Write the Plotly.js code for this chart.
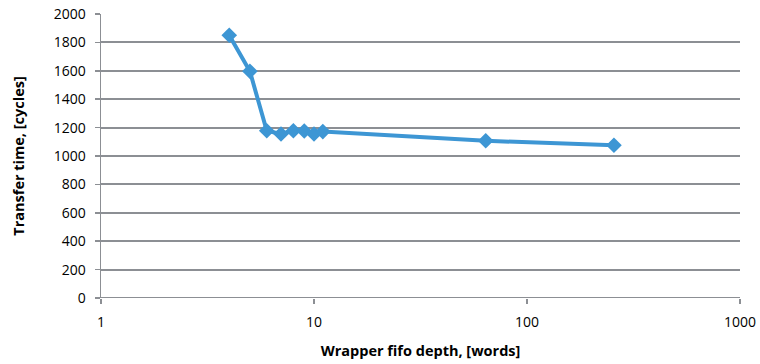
<!DOCTYPE html>
<html><head><meta charset="utf-8">
<script src="https://cdn.plot.ly/plotly-3.0.1.min.js"></script>
<style>body{margin:0;padding:0;background:#fff}#chart{width:760px;height:364px}</style>
</head><body><div id="chart"></div>
<script>
const fifoDepth = [4, 5, 6, 7, 8, 9, 10, 11, 64, 256];
const transferTime = [1850, 1597, 1178, 1155, 1178, 1176, 1155, 1172, 1107, 1076];
const yTicks = [0, 200, 400, 600, 800, 1000, 1200, 1400, 1600, 1800, 2000];
const xTicks = [1, 10, 100, 1000];

const trace = {
  x: fifoDepth, y: transferTime, mode: 'lines+markers', type: 'scatter',
  line: {color: '#3d96d4', width: 4},
  marker: {symbol: 'diamond', size: 12, color: '#3d96d4'},
  hoverinfo: 'none'
};
const layout = {
  width: 760, height: 364,
  margin: {l: 101, r: 20, t: 14, b: 66},
  paper_bgcolor: '#fff', plot_bgcolor: '#fff',
  showlegend: false,
  font: {family: 'Open Sans, Liberation Sans, sans-serif', size: 14, color: '#000'},
  xaxis: {
    type: 'log', range: [0, 3], tickvals: xTicks, ticktext: xTicks.map(String),
    showgrid: false, zeroline: false, showline: false,
    ticks: 'outside', ticklen: 5, tickcolor: '#8c8f94', tickwidth: 1.5,
    ticklabelstandoff: 6,
    tickfont: {size: 14},
    title: {text: 'Wrapper fifo depth, [words]', font: {size: 14.5, weight: 'bold'}, standoff: 16}
  },
  yaxis: {
    range: [0, 2000], tickvals: yTicks, showgrid: true, gridcolor: '#8c8f94', gridwidth: 2,
    zeroline: false, showline: true, linecolor: '#8c8f94', linewidth: 1.5,
    ticks: 'outside', ticklen: 5, tickcolor: '#8c8f94', tickwidth: 1.5,
    ticklabelstandoff: 6,
    tickfont: {size: 14},
    title: {text: 'Transfer time, [cycles]', font: {size: 14.5, weight: 'bold'}, standoff: 25}
  },
  shapes: [{type: 'line', xref: 'paper', yref: 'y', x0: 0, x1: 1, y0: 0, y1: 0,
    line: {color: '#8c8f94', width: 2}}]
};
Plotly.newPlot('chart', [trace], layout, {displayModeBar: false, staticPlot: true});
</script></body></html>
